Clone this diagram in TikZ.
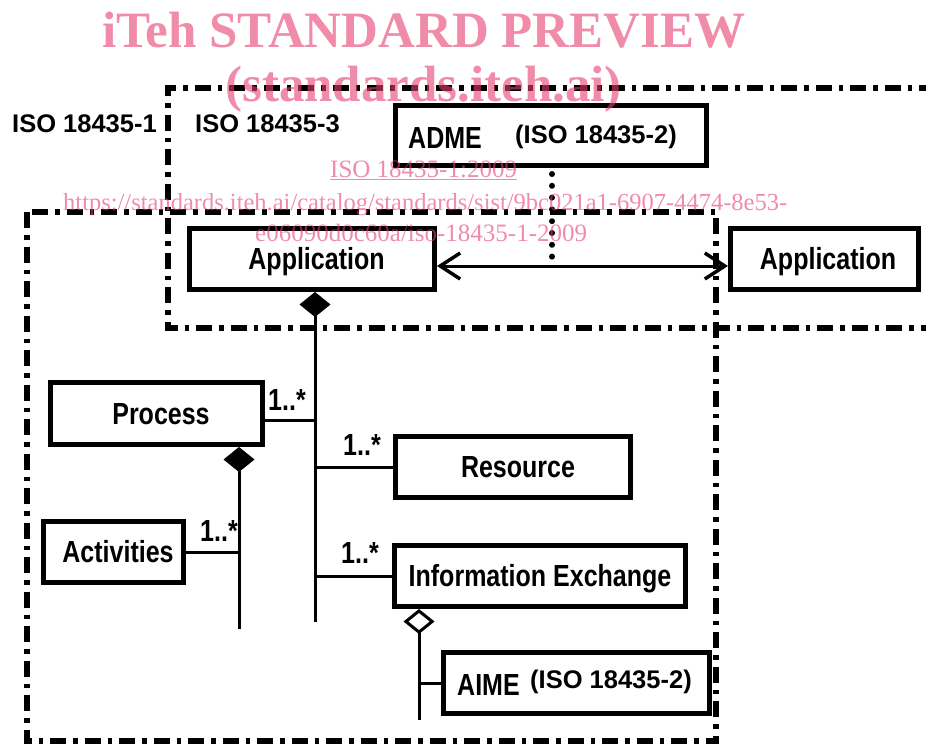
\documentclass[tikz,border=0pt]{standalone}
\usepackage{fontspec}
\setmainfont{Liberation Sans}
\newfontfamily\boxfont[FakeStretch=0.82]{Liberation Sans}
\newfontfamily\wmfont{Liberation Serif}
\usetikzlibrary{arrows.meta}
\definecolor{wm}{RGB}{230,63,113}
\tikzset{
  umlbox/.style={draw, line width=5pt, inner sep=0pt, outer sep=2.5pt,
    text height=21.8pt, text depth=0pt,
    font=\boxfont\bfseries\fontsize{30.5}{30.5}\selectfont},
  boxword/.style={anchor=base west, inner sep=0pt,
    font=\boxfont\bfseries\fontsize{30.5}{30.5}\selectfont},
  isolbl/.style={anchor=base west, inner sep=0pt,
    font=\bfseries\fontsize{25.5}{25.5}\selectfont},
  mult/.style={anchor=base west, inner sep=0pt,
    font=\boxfont\bfseries\fontsize{30.5}{30.5}\selectfont},
  region/.style={line width=5.5pt, dash pattern=on 16pt off 7pt on 4.5pt off 7pt},
  conn/.style={line width=3pt},
  wmtext/.style={anchor=base west, inner sep=0pt, text=wm, text opacity=0.6},
  barbtip/.tip={Straight Barb[length=20pt,width=26pt,line width=3.5pt]},
}
\begin{document}
\begin{tikzpicture}[x=1pt,y=-1pt]
\useasboundingbox (0,0) rectangle (926,744);

% regions
\draw[region] (935,88) -- (168,88) -- (168,328) -- (935,328);
\draw[region] (27,212) rectangle (716,741);

\node[isolbl] (iso1) at (12,132) {ISO 18435-1};
\node[isolbl] (iso3) at (195,132) {ISO 18435-3};

% boxes
\node[umlbox, minimum width=311pt, minimum height=60pt] (adme) at (551,135.5) {};
\node[boxword] (admet) at (408,148) {ADME};
\node[isolbl] (admeiso) at (515,143) {(ISO 18435-2)};

\node[umlbox, minimum width=245pt, minimum height=61pt] (appl) at (312,259) {\hspace*{9pt}Application};
\node[umlbox, minimum width=188pt, minimum height=61pt] (appr) at (824.5,259) {\hspace*{7pt}Application};
\node[umlbox, minimum width=212pt, minimum height=62pt] (proc) at (156.5,413.5) {\hspace*{9pt}Process};
\node[umlbox, minimum width=235pt, minimum height=61pt] (res) at (513,467) {\hspace*{10pt}Resource};
\node[umlbox, minimum width=291pt, minimum height=61pt] (ie) at (540,576) {Information Exchange};
\node[umlbox, minimum width=140pt, minimum height=61pt] (act) at (113.5,552) {\hspace*{9pt}Activities};
\node[umlbox, minimum width=266pt, minimum height=61pt] (aime) at (576.5,683) {};
\node[boxword] (aimet) at (457,695) {AIME};
\node[isolbl] (aimeiso) at (530,688) {(ISO 18435-2)};

% dotted line from ADME
\coordinate (dotend) at (552,260);
\draw[line width=6pt, line cap=round, dash pattern=on 0pt off 11.8pt] ([xshift=1pt,yshift=-6pt]adme.south) -- (dotend);

% bidirectional arrow
\draw[conn, barbtip-barbtip] ([yshift=-7pt]appl.east) -- ([yshift=-7pt]appr.west);

% composition Application
\coordinate (bus1) at (315,622);
\draw[conn, {Diamond[length=25pt,width=31pt,fill=black]}-] ([xshift=3pt]appl.south) -- (bus1);
\draw[conn] (proc.east |- 0,420) -- (315,420);
\draw[conn] (315,467) -- (res.west);
\draw[conn] (315,576) -- (ie.west);
\node[mult] (m1) at (268,410) {1..*};
\node[mult] (m2) at (343,455) {1..*};
\node[mult] (m3) at (341,563) {1..*};

% composition Process
\coordinate (bus2) at (239,629);
\draw[conn, {Diamond[length=25pt,width=31pt,fill=black]}-] ([xshift=82.5pt]proc.south) -- (bus2);
\draw[conn] (act.east) -- (239,552);
\node[mult] (m4) at (200,541) {1..*};

% aggregation IE
\coordinate (bus3) at (419,720);
\draw[conn, {Diamond[open,length=25pt,width=31pt]}-] ([xshift=27pt]ie.south west) -- (bus3);
\draw[conn] (419,683) -- (aime.west);

% watermark
\node[wmtext, font=\wmfont\bfseries\fontsize{51}{51}\selectfont] (wm1) at (102,47) {iTeh STANDARD PREVIEW};
\node[wmtext, font=\wmfont\bfseries\fontsize{51}{51}\selectfont] (wm2) at (225,101) {(standards.iteh.ai)};
\node[wmtext, font=\wmfont\fontsize{25}{25}\selectfont] (wm3) at (330,177) {\underline{ISO 18435-1:2009}};
\node[wmtext, font=\wmfont\fontsize{24.5}{24.5}\selectfont] (wm4) at (63,210) {https://standards.iteh.ai/catalog/standards/sist/9bc021a1-6907-4474-8e53-};
\node[wmtext, font=\wmfont\fontsize{25}{25}\selectfont] (wm5) at (255,241) {e06090d0c60a/iso-18435-1-2009};
\end{tikzpicture}
\end{document}
